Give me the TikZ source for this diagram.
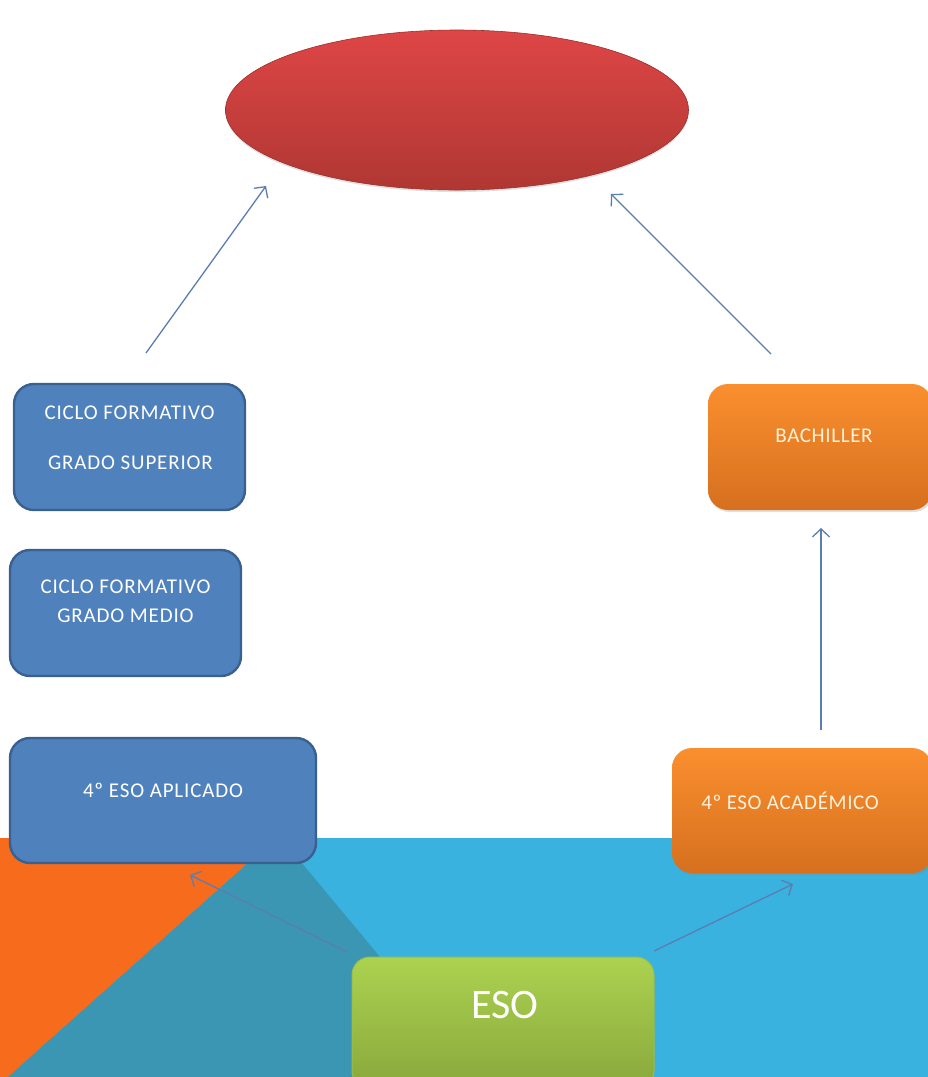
\documentclass[tikz,border=0pt]{standalone}
\usepackage{fontspec}
\setmainfont{Carlito}
\usetikzlibrary{shadows,arrows.meta,calc,shapes.geometric}
\definecolor{bgblue}{HTML}{3AB2E0}
\definecolor{bgteal}{HTML}{3A96B2}
\definecolor{bgorange}{HTML}{F76B1C}
\definecolor{boxblue}{HTML}{4F81BD}
\definecolor{boxborder}{HTML}{3A6090}
\definecolor{arrowcol}{HTML}{5B7DB0}
\definecolor{orangetop}{HTML}{FA8F2E}
\definecolor{orangebot}{HTML}{D6701F}
\definecolor{redtop}{HTML}{DE4646}
\definecolor{redbot}{HTML}{B03733}
\definecolor{redline}{HTML}{9A302C}
\definecolor{greentop}{HTML}{ACD250}
\definecolor{greenbot}{HTML}{88A83C}
\definecolor{greenline}{HTML}{9DBD48}
\definecolor{creamtext}{HTML}{FFF1DA}
\tikzset{
  bluebox/.style={rectangle, rounded corners=20pt, fill=boxblue, draw=boxborder, line width=2.4pt, inner sep=0pt},
  orangebox/.style={rectangle, rounded corners=20pt, top color=orangetop, bottom color=orangebot, draw=none, inner sep=0pt,
     drop shadow={opacity=0.25, shadow xshift=1.5pt, shadow yshift=-2pt}},
  greenbox/.style={rectangle, rounded corners=18pt, top color=greentop, bottom color=greenbot, draw=greenline, line width=1pt, inner sep=0pt,
     drop shadow={opacity=0.3, shadow xshift=0pt, shadow yshift=-2pt}},
  txt/.style={text=white, font=\addfontfeatures{LetterSpace=4}\fontsize{21}{25}\selectfont, inner sep=0pt},
  otxt/.style={text=creamtext, font=\addfontfeatures{LetterSpace=3}\fontsize{21}{25}\selectfont, inner sep=0pt},
  arr/.style={draw=arrowcol, line width=1.3pt, -{Straight Barb[length=8pt,width=17pt]}}
}
\begin{document}
\begin{tikzpicture}[x=1pt,y=-1pt]
\clip (0,0) rectangle (928,1077);
\fill[white] (0,0) rectangle (928,1077);
% background
\fill[bgblue] (0,838) rectangle (928,1077);
\fill[bgorange] (0,838) -- (276,838) -- (8,1077) -- (0,1077) -- cycle;
\fill[bgteal] (276,838) -- (281,838) -- (480,1077) -- (8,1077) -- cycle;

% top ellipse
\node[ellipse, minimum width=463pt, minimum height=160pt, top color=redtop, bottom color=redbot,
      draw=redline, line width=0.6pt, inner sep=0pt,
      drop shadow={opacity=0.25, shadow xshift=0pt, shadow yshift=-2pt}] (goal) at (457,110) {};

% left boxes
\node[bluebox, minimum width=231pt, minimum height=126pt] (cfgs) at (129.5,447) {};
\node[txt] (cfgs1) at ($(cfgs.center)+(0,-34)$) {CICLO FORMATIVO};
\node[txt] (cfgs2) at ($(cfgs.center)+(1,16)$) {GRADO SUPERIOR};

\node[bluebox, minimum width=231pt, minimum height=126pt] (cfgm) at (125.5,613) {};
\node[txt] (cfgm1) at ($(cfgm.center)+(0,-26)$) {CICLO FORMATIVO};
\node[txt] (cfgm2) at ($(cfgm.center)+(0,3)$) {GRADO MEDIO};

\node[bluebox, minimum width=306pt, minimum height=125pt] (apl) at (163,800.5) {};
\node[txt] (apl1) at ($(apl.center)+(0,-10.5)$) {4º ESO APLICADO};

% right boxes
\node[orangebox, minimum width=224pt, minimum height=126pt] (bach) at (820,447) {};
\node[otxt] (bach1) at ($(bach.center)+(4,-11)$) {BACHILLER};

\node[orangebox, minimum width=260pt, minimum height=125pt] (acad) at (802,810.5) {};
\node[otxt] (acad1) at ($(acad.center)+(-12,-9.5)$) {4º ESO ACADÉMICO};

% ESO
\node[greenbox, minimum width=302pt, minimum height=132pt] (eso) at (503,1023) {};
\node[text=white, font=\fontsize{42}{48}\selectfont, inner sep=0pt] (eso1) at (505,1005) {ESO};

% arrows
\coordinate (a1s) at (146,353);
\coordinate (a1e) at (266,186);
\coordinate (a2s) at (771,354);
\coordinate (a2e) at (611,194);
\coordinate (a3s) at (821,730);
\coordinate (a3e) at (821,528);
\coordinate (a4s) at (347,952);
\coordinate (a4e) at (190,875);
\coordinate (a5s) at (654,951);
\coordinate (a5e) at (793,884);
\draw[arr] (a1s) -- (a1e);
\draw[arr] (a2s) -- (a2e);
\draw[arr] (a3s) -- (a3e);
\draw[arr] (a4s) -- (a4e);
\draw[arr] (a5s) -- (a5e);
\end{tikzpicture}
\end{document}
